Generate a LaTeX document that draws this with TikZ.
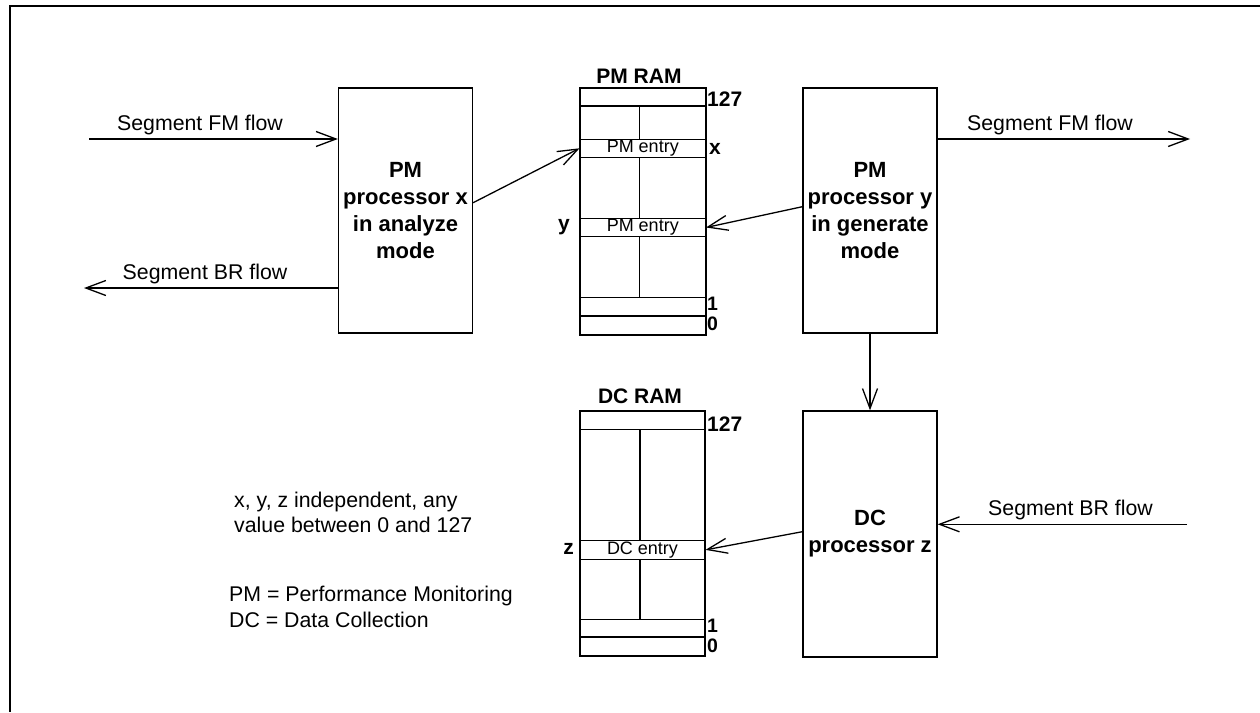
\documentclass[tikz,border=0pt]{standalone}
\usepackage{fontspec}
\setmainfont{Liberation Sans}
\usetikzlibrary{arrows.meta,calc}
\begin{document}
\begin{tikzpicture}[x=1pt,y=-1pt,
  arr/.style={line width=1.3pt,-{Straight Barb[length=20pt,width=15pt]}},
  proc/.style={draw,line width=1.3pt,minimum width=134pt,minimum height=245pt,inner sep=0pt,align=center,font=\fontsize{22}{27}\selectfont\bfseries},
  row/.style={draw,line width=1pt,minimum width=125.5pt,inner sep=0pt,font=\fontsize{18}{20}\selectfont},
  ramouter/.style={draw,line width=2pt,minimum width=125.5pt,inner sep=0pt},
  sep/.style={line width=1.2pt},
  thicksep/.style={line width=2pt},
  flowtxt/.style={anchor=base,inner sep=0pt,font=\fontsize{21.3}{26}\selectfont},
  ramtitle/.style={anchor=base,inner sep=0pt,font=\fontsize{21}{25}\selectfont\bfseries},
  idx/.style={anchor=base west,inner sep=0pt,font=\fontsize{21}{25}\selectfont\bfseries},
  smallidx/.style={anchor=base west,inner sep=0pt,font=\fontsize{19.5}{22}\selectfont\bfseries},
  note/.style={anchor=base west,inner sep=0pt,font=\fontsize{21.3}{26}\selectfont},
  frame/.style={line width=2pt}
]
\useasboundingbox (0,0) rectangle (1260,712);
% frame
\coordinate (fr1) at (1260,5.5);
\coordinate (fr2) at (9.5,5.5);
\coordinate (fr3) at (9.5,712);
\draw[frame] (fr1) -- (fr2) -- (fr3);

% processors
\node[proc] (px) at (405.5,210.5) {PM\\processor x\\in analyze\\mode};
\node[proc] (py) at (870,210.5) {PM\\processor y\\in generate\\mode};
\node[proc,minimum height=246pt] (pz) at (870,534) {DC\\processor z};

% PM RAM
\node[row,minimum height=18pt] (pm127) at (642.75,96.7) {};
\node[row,minimum height=18pt] (pmx) at (642.75,148.3) {PM entry};
\node[row,minimum height=18.4pt] (pmy) at (642.75,227.5) {PM entry};
\node[row,minimum height=18.7pt] (pm1) at (642.75,306.65) {};
\node[row,minimum height=19pt] (pm0) at (642.75,325.5) {};
\node[ramouter,minimum height=247.3pt] (pmram) at (642.75,211.35) {};
\draw[sep] ([xshift=-3pt]pm127.south) -- ([xshift=-3pt]pmx.north);
\draw[sep] ([xshift=-3pt]pmx.south) -- ([xshift=-3pt]pmy.north);
\draw[sep] ([xshift=-3pt]pmy.south) -- ([xshift=-3pt]pm1.north);
\draw[sep] (pm127.south west) -- (pm127.south east);
\draw[thicksep] (pm0.north west) -- (pm0.north east);
\node[ramtitle] (pmtitle) at (639,83.3) {PM RAM};
\node[idx] (l127a) at (707,106) {127};
\node[idx] (lx) at (709,154) {x};
\node[idx,anchor=base east] (ly) at (570,230.7) {y};
\node[smallidx] (l1a) at (707,310.2) {1};
\node[smallidx] (l0a) at (707,330.5) {0};

% DC RAM
\node[row,minimum width=125pt,minimum height=18.6pt] (dc127) at (642.5,420) {};
\node[row,minimum width=125pt,minimum height=18.3pt] (dcz) at (642.5,549.85) {DC entry};
\node[row,minimum width=125pt,minimum height=18.4pt] (dc1) at (642.5,628.5) {};
\node[row,minimum width=125pt,minimum height=18.3pt] (dc0) at (642.5,646.85) {};
\node[ramouter,minimum width=125pt,minimum height=245.3pt] (dcram) at (642.5,533.35) {};
\draw[sep] ([xshift=-2.5pt]dc127.south) -- ([xshift=-2.5pt]dcz.north);
\draw[sep] ([xshift=-2.5pt]dcz.south) -- ([xshift=-2.5pt]dc1.north);
\draw[sep] (dc127.south west) -- (dc127.south east);
\draw[thicksep] (dc0.north west) -- (dc0.north east);
\node[ramtitle] (dctitle) at (640,403.3) {DC RAM};
\node[idx] (l127b) at (707,431) {127};
\node[idx,anchor=base east] (lz) at (574,554) {z};
\node[smallidx] (l1b) at (707,632.5) {1};
\node[smallidx] (l0b) at (707,652.2) {0};

% connectors between processors and RAM
\draw[arr] ([yshift=7.8pt]px.east) -- (pmx.west);
\draw[arr] ([yshift=3.8pt]py.west) -- (pmy.east);
\draw[arr] ([yshift=2.3pt]pz.west) -- (dcz.east);
\draw[arr] (py.south) -- (pz.north);

% flows
\coordinate (fmin) at (89,139);
\coordinate (brout) at (84,288);
\coordinate (fmout) at (1190,139);
\coordinate (brin) at (1187,524.3);
\draw[arr] (fmin) -- (fmin -| px.west);
\draw[arr] (brout -| px.west) -- (brout);
\draw[arr] (fmout -| py.east) -- (fmout);
\draw[arr] (brin) -- (brin -| pz.east);
\node[flowtxt] (tfm1) at (200,130.7) {Segment FM flow};
\node[flowtxt] (tbr1) at (205,279.3) {Segment BR flow};
\node[flowtxt] (tfm2) at (1050,130.7) {Segment FM flow};
\node[flowtxt] (tbr2) at (1070.5,515.7) {Segment BR flow};

% notes
\node[note] (n1) at (234,507.3) {x, y, z independent, any};
\node[note] (n2) at (234,532.3) {value between 0 and 127};
\node[note] (n3) at (229,601) {PM = Performance Monitoring};
\node[note] (n4) at (229,627.7) {DC = Data Collection};
\end{tikzpicture}
\end{document}
